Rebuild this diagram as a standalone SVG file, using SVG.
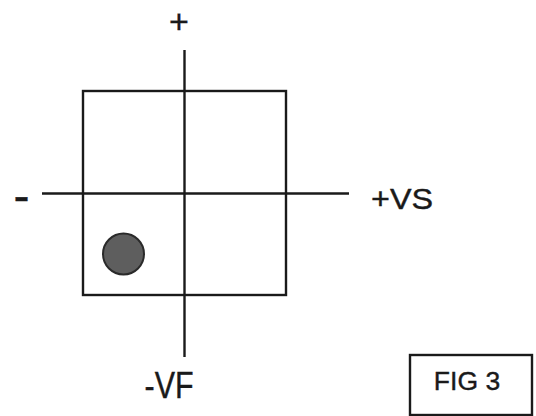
<svg xmlns="http://www.w3.org/2000/svg" width="536" height="416" viewBox="0 0 536 416">
  <style>
    .ln { fill: none; stroke: #1a1a1a; stroke-width: 2.4; }
    .lbl { font-family: "Liberation Sans", Arial, sans-serif; fill: #1a1a1a; stroke: #1a1a1a; stroke-width: 0.4; }
  </style>
  <rect width="536" height="416" fill="#ffffff"/>

  <!-- quadrant frame -->
  <g id="frame">
    <rect class="ln" x="83" y="91" width="203" height="204"/>
  </g>

  <!-- axes -->
  <g id="axes">
    <line class="ln" x1="184.5" y1="50" x2="184.5" y2="357"/>
    <line class="ln" x1="42" y1="193.5" x2="349" y2="193.5"/>
  </g>

  <!-- marker dot in lower-left quadrant -->
  <g id="dot">
    <circle cx="123.5" cy="254" r="20.5" fill="#5e5e5e" stroke="#2a2a2a" stroke-width="2"/>
  </g>

  <!-- axis labels -->
  <g id="labels">
    <text class="lbl" x="179" y="33" font-size="34" text-anchor="middle">+</text>
    <text class="lbl" x="13.5" y="212" font-size="48">-</text>
    <text class="lbl" x="371" y="208.5" font-size="30" textLength="62" lengthAdjust="spacingAndGlyphs">+VS</text>
    <text class="lbl" x="144.5" y="398" font-size="36" textLength="49" lengthAdjust="spacingAndGlyphs">-VF</text>
  </g>

  <!-- figure tag -->
  <g id="fig-tag">
    <rect class="ln" x="410" y="355" width="122" height="60"/>
    <text class="lbl" x="467" y="390" font-size="26.5" text-anchor="middle">FIG 3</text>
  </g>
</svg>
